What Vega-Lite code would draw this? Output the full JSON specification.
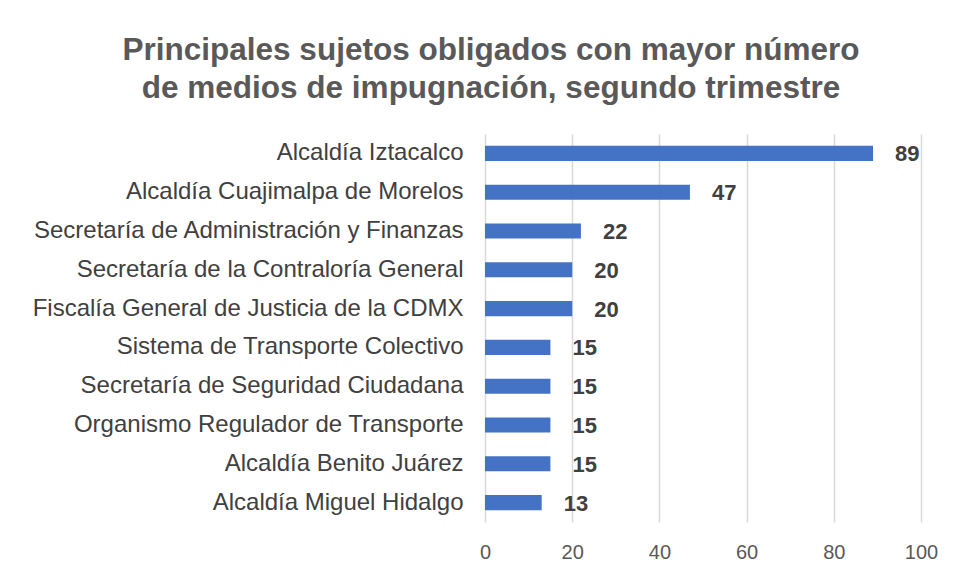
{
  "$schema": "https://vega.github.io/schema/vega-lite/v6.json",
  "autosize": {"type": "none"},
  "width": 436,
  "height": 388,
  "padding": {"left": 485, "top": 134, "right": 37, "bottom": 55},
  "background": "white",
  "title": {
    "text": ["Principales sujetos obligados con mayor número", "de medios de impugnación, segundo trimestre"],
    "font": "Liberation Sans",
    "fontSize": 31.5,
    "fontWeight": "bold",
    "color": "#595959",
    "lineHeight": 38,
    "anchor": "middle",
    "dx": -212,
    "offset": 30
  },
  "data": {
    "values": [
      {"sujeto": "Alcaldía Iztacalco", "valor": 89},
      {"sujeto": "Alcaldía Cuajimalpa de Morelos", "valor": 47},
      {"sujeto": "Secretaría de Administración y Finanzas", "valor": 22},
      {"sujeto": "Secretaría de la Contraloría General", "valor": 20},
      {"sujeto": "Fiscalía General de Justicia de la CDMX", "valor": 20},
      {"sujeto": "Sistema de Transporte Colectivo", "valor": 15},
      {"sujeto": "Secretaría de Seguridad Ciudadana", "valor": 15},
      {"sujeto": "Organismo Regulador de Transporte", "valor": 15},
      {"sujeto": "Alcaldía Benito Juárez", "valor": 15},
      {"sujeto": "Alcaldía Miguel Hidalgo", "valor": 13}
    ]
  },
  "encoding": {
    "y": {
      "field": "sujeto",
      "type": "nominal",
      "sort": null,
      "scale": {"paddingInner": 0.61, "paddingOuter": 0.305},
      "axis": {
        "title": null,
        "domain": false,
        "ticks": false,
        "labelFont": "Liberation Sans",
        "labelFontSize": 24,
        "labelColor": "#404040",
        "labelPadding": 22,
        "labelLimit": 600
      }
    },
    "x": {
      "field": "valor",
      "type": "quantitative",
      "scale": {"domain": [0, 100], "nice": false},
      "axis": {
        "title": null,
        "values": [0, 20, 40, 60, 80, 100],
        "domain": false,
        "ticks": false,
        "grid": true,
        "gridColor": "#d9d9d9",
        "gridWidth": 1.5,
        "labelFont": "Liberation Sans",
        "labelFontSize": 20,
        "labelColor": "#595959",
        "labelPadding": 20,
        "labelFlush": false
      }
    }
  },
  "layer": [
    {"mark": {"type": "bar", "color": "#4472C4"}},
    {
      "mark": {
        "type": "text",
        "align": "left",
        "baseline": "middle",
        "dx": 22,
        "dy": 1,
        "font": "Liberation Sans",
        "fontSize": 22,
        "fontWeight": "bold",
        "color": "#404040"
      },
      "encoding": {"text": {"field": "valor", "type": "quantitative"}}
    }
  ],
  "config": {"view": {"stroke": null}}
}
